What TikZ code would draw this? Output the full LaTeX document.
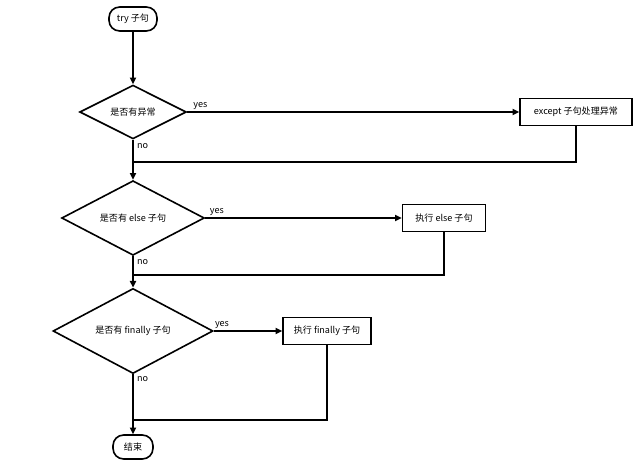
\documentclass[tikz,border=0pt]{standalone}
\usepackage{fontspec}
\setmainfont{Noto Sans CJK SC}
\usetikzlibrary{shapes.geometric,arrows.meta}
\begin{document}
\begin{tikzpicture}[x=0.75pt,y=-0.75pt,line width=1.2pt,
    font=\fontsize{6.8}{8}\selectfont,
    terminal/.style={draw,rounded corners=8pt,minimum width=36pt,minimum height=18pt,inner sep=1pt},
    decision/.style={draw,diamond,inner sep=0pt},
    actbox/.style={draw,minimum height=20pt,inner sep=2pt},
    flow/.style={-{Triangle[length=5pt,width=4.5pt]}},
    lbl/.style={inner sep=1pt}]
  \useasboundingbox (0,0) rectangle (640,467);
  % start and end
  \node[terminal] (try) at (133,19) {try 子句};
  \node[terminal,minimum width=30pt] (fin) at (133,447) {结束};
  % decisions
  \node[decision,minimum width=80pt,minimum height=40pt] (d1) at (133,112) {是否有异常};
  \node[decision,minimum width=107pt,minimum height=54pt] (d2) at (133,218) {是否有 else 子句};
  \node[decision,minimum width=120pt,minimum height=56pt] (d3) at (133,331) {是否有 finally 子句};
  % actions
  \node[actbox,minimum width=84pt] (a1) at (576,112) {except 子句处理异常};
  \node[actbox,minimum width=62pt] (a2) at (444,218) {执行 else 子句};
  \node[actbox,minimum width=66pt] (a3) at (327,331) {执行 finally 子句};
  % merge points
  \coordinate (m1) at (133,162);
  \coordinate (m2) at (133,275);
  \coordinate (m3) at (133,420);
  % main line
  \draw[flow] (try) -- (d1);
  \draw[flow] (d1) -- (d2);
  \draw[flow] (d2) -- (d3);
  \draw[flow] (d3) -- (fin);
  % yes branches
  \draw[flow] (d1.east) -- node[lbl,above,pos=0.04] {yes} (a1.west);
  \draw[flow] (d2.east) -- node[lbl,above,pos=0.06] {yes} (a2.west);
  \draw[flow] (d3.east) -- node[lbl,above,pos=0.12] {yes} (a3.west);
  % returns
  \draw (a1.south) |- (m1);
  \draw (a2.south) |- (m2);
  \draw (a3.south) |- (m3);
  % no labels
  \node[lbl,right] (n1) at (135,146) {no};
  \node[lbl,right] (n2) at (135,262) {no};
  \node[lbl,right] (n3) at (135,379) {no};
\end{tikzpicture}
\end{document}
